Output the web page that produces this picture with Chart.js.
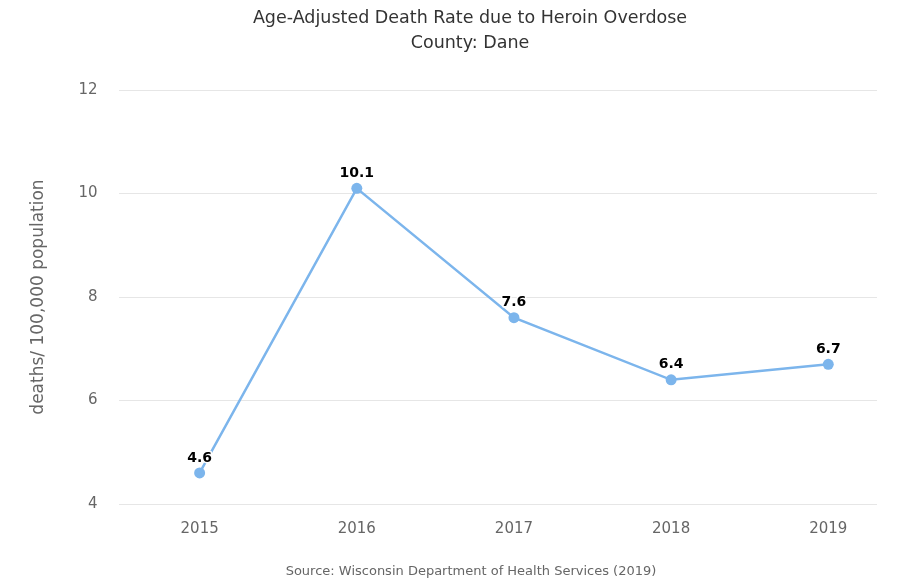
<!DOCTYPE html>
<html>
<head>
<meta charset="utf-8">
<script src="https://cdn.jsdelivr.net/npm/chart.js@4"></script>
<style>
  html, body { margin: 0; padding: 0; background: #fff; }
  #wrap { width: 897px; height: 582px; }
</style>
</head>
<body>
<div id="wrap"><canvas id="rateChart" width="897" height="582"></canvas></div>
<script>
const years = ["2015", "2016", "2017", "2018", "2019"];
const rates = [4.6, 10.1, 7.6, 6.4, 6.7];
const yTicks = [4, 6, 8, 10, 12];
const titleLines = ["Age-Adjusted Death Rate due to Heroin Overdose", "County: Dane"];
const sourceNote = "Source: Wisconsin Department of Health Services (2019)";

const FONT = "'DejaVu Sans', 'Liberation Sans', sans-serif";

// value labels above each point
const pointLabels = {
  id: "pointLabels",
  afterDatasetsDraw(chart) {
    const ctx = chart.ctx;
    const meta = chart.getDatasetMeta(0);
    ctx.save();
    ctx.font = "bold 14px " + FONT;
    ctx.textAlign = "center";
    ctx.textBaseline = "bottom";
    ctx.lineJoin = "round";
    meta.data.forEach((pt, i) => {
      const txt = rates[i].toFixed(1);
      ctx.strokeStyle = "#fff";
      ctx.lineWidth = 3;
      ctx.strokeText(txt, pt.x, pt.y - 8);
      ctx.fillStyle = "#000";
      ctx.fillText(txt, pt.x, pt.y - 8);
    });
    ctx.restore();
  }
};

// title on top, source line at the bottom (centre sits a bit right of the canvas middle)
const headerFooter = {
  id: "headerFooter",
  afterDraw(chart) {
    const ctx = chart.ctx;
    const cx = 470;
    ctx.save();
    ctx.textAlign = "center";
    ctx.textBaseline = "middle";
    ctx.fillStyle = "#333";
    ctx.font = "17.5px " + FONT;
    titleLines.forEach((line, i) => ctx.fillText(line, cx, 18 + i * 25));
    ctx.fillStyle = "#666";
    ctx.font = "13px " + FONT;
    ctx.fillText(sourceNote, cx + 1, chart.height - 10);
    ctx.restore();
  }
};

new Chart(document.getElementById("rateChart"), {
  type: "line",
  data: {
    datasets: [{
      label: "Dane",
      data: years.map((y, i) => ({ x: Number(y), y: rates[i] })),
      borderColor: "#7cb5ec",
      backgroundColor: "#7cb5ec",
      borderWidth: 2.5,
      pointRadius: 5.5,
      pointBorderWidth: 0,
      tension: 0,
      fill: false
    }]
  },
  options: {
    responsive: false,
    animation: false,
    layout: { padding: { left: 28, right: 20, top: 90, bottom: 36 } },
    plugins: {
      legend: { display: false },
      tooltip: { enabled: false },
      title: { display: false }
    },
    scales: {
      x: {
        type: "linear",
        min: 2014.49,
        max: 2019.31,
        afterBuildTicks(scale) {
          scale.ticks = years.map(y => ({ value: Number(y) }));
        },
        ticks: {
          color: "#666",
          font: { family: FONT, size: 15 },
          padding: 8,
          callback: v => String(v)
        },
        grid: { display: false },
        border: { display: false }
      },
      y: {
        min: 4,
        max: 12,
        afterBuildTicks(scale) {
          scale.ticks = yTicks.map(v => ({ value: v }));
        },
        ticks: {
          color: "#666",
          font: { family: FONT, size: 15 },
          padding: 22
        },
        grid: { color: "#e6e6e6", lineWidth: 1, drawTicks: false },
        border: { display: false },
        title: {
          display: true,
          text: "deaths/ 100,000 population",
          color: "#666",
          font: { family: FONT, size: 17 },
          padding: { top: 0, bottom: 8 }
        }
      }
    }
  },
  plugins: [pointLabels, headerFooter]
});
</script>
</body>
</html>
